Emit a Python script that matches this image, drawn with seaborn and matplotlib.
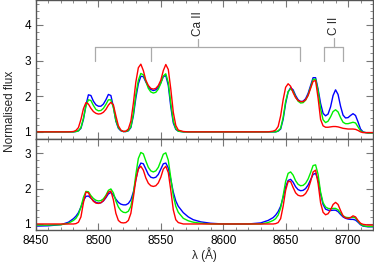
import numpy as np
import pandas as pd
import seaborn as sns
import matplotlib
matplotlib.use("Agg")
import matplotlib.pyplot as plt
from matplotlib.ticker import MultipleLocator

# wavelength grid (Angstrom)
wave = [8450, 8460, 8470, 8476, 8480,
        8482, 8484, 8486, 8488, 8490, 8492, 8494, 8496, 8498, 8500,
        8502, 8504, 8506, 8508, 8510, 8512, 8514, 8516, 8518, 8520,
        8522, 8524, 8526, 8528, 8530, 8532, 8534, 8536, 8538, 8540,
        8542, 8544, 8546, 8548, 8550, 8552, 8554, 8556, 8558, 8560,
        8562, 8564,
        8568, 8572, 8576, 8582, 8590, 8600, 8610, 8620, 8630, 8636, 8640,
        8642, 8644, 8646, 8648, 8650, 8652, 8654, 8656, 8658, 8660,
        8662, 8664, 8666, 8668, 8670, 8672, 8674, 8676, 8678, 8680,
        8682, 8684, 8686, 8688, 8690, 8692, 8694, 8696, 8698, 8700,
        8702, 8704, 8706, 8708, 8710, 8712, 8714, 8716,
        8720]

# upper panel
top_blue = [1.0, 1.0, 1.0, 1.0, 1.0,
            1.01, 1.03, 1.1, 1.35, 1.75, 2.04, 2.02, 1.86, 1.76, 1.72,
            1.72, 1.78, 1.9, 2.05, 2.02, 1.7, 1.3, 1.1, 1.03, 1.01,
            1.01, 1.03, 1.12, 1.45, 1.95, 2.35, 2.56, 2.55, 2.4, 2.27,
            2.19, 2.16, 2.18, 2.25, 2.38, 2.55, 2.58, 2.3, 1.7, 1.25,
            1.07, 1.02,
            1.0, 1.0, 1.0, 1.0, 1.0, 1.0, 1.0, 1.0, 1.0, 1.0, 1.0,
            1.0, 1.02, 1.08, 1.35, 1.8, 2.12, 2.24, 2.18, 2.02, 1.9,
            1.85, 1.86, 1.93, 2.08, 2.3, 2.52, 2.52, 2.2, 1.8, 1.52,
            1.45, 1.5, 1.7, 2.02, 2.18, 2.05, 1.72, 1.47, 1.39, 1.4,
            1.46, 1.51, 1.46, 1.28, 1.08, 1.0, 0.98, 0.97,
            0.97]
top_green = [1.0, 1.0, 1.0, 1.0, 1.0,
             1.01, 1.03, 1.12, 1.38, 1.72, 1.9, 1.88, 1.74, 1.63, 1.59,
             1.6, 1.66, 1.77, 1.9, 1.9, 1.68, 1.32, 1.12, 1.04, 1.01,
             1.01, 1.04, 1.14, 1.5, 2.05, 2.45, 2.64, 2.6, 2.42, 2.22,
             2.12, 2.09, 2.11, 2.2, 2.36, 2.57, 2.63, 2.38, 1.8, 1.3,
             1.09, 1.02,
             1.0, 1.0, 1.0, 1.0, 1.0, 1.0, 1.0, 1.0, 1.0, 1.0, 1.0,
             1.0, 1.03, 1.1, 1.4, 1.85, 2.13, 2.21, 2.14, 1.98, 1.86,
             1.81, 1.82, 1.89, 2.03, 2.25, 2.47, 2.48, 2.15, 1.65, 1.34,
             1.26, 1.3, 1.42, 1.57, 1.62, 1.56, 1.4, 1.27, 1.23, 1.23,
             1.25, 1.27, 1.25, 1.14, 1.03, 0.99, 0.98, 0.97,
             0.97]
top_red = [1.0, 1.0, 1.0, 1.0, 1.01,
           1.04, 1.12, 1.35, 1.65, 1.82, 1.78, 1.66, 1.57, 1.52, 1.5,
           1.51, 1.55, 1.63, 1.75, 1.83, 1.76, 1.45, 1.17, 1.05, 1.01,
           1.02, 1.08, 1.3, 1.8, 2.4, 2.8, 2.9, 2.72, 2.45, 2.3,
           2.22, 2.2, 2.22, 2.3, 2.45, 2.72, 2.89, 2.75, 2.2, 1.55,
           1.18, 1.05,
           1.01, 1.0, 1.0, 1.0, 1.0, 1.0, 1.0, 1.0, 1.0, 1.0, 1.02,
           1.05, 1.15, 1.45, 1.9, 2.25, 2.35, 2.28, 2.1, 1.96, 1.88,
           1.85, 1.85, 1.9, 2.02, 2.22, 2.42, 2.44, 1.95, 1.35, 1.17,
           1.13, 1.13, 1.14, 1.15, 1.15, 1.14, 1.12, 1.1, 1.09, 1.08,
           1.08, 1.08, 1.07, 1.04, 1.0, 0.98, 0.98, 0.98,
           0.98]

# lower panel
bot_blue = [0.94, 0.95, 0.98, 1.05, 1.15,
            1.22, 1.32, 1.48, 1.66, 1.78, 1.79, 1.73, 1.66, 1.61, 1.59,
            1.6, 1.65, 1.74, 1.85, 1.89, 1.82, 1.7, 1.61, 1.56, 1.54,
            1.54, 1.58, 1.68, 1.9, 2.25, 2.58, 2.72, 2.7, 2.55, 2.4,
            2.32, 2.3, 2.32, 2.4, 2.55, 2.7, 2.72, 2.58, 2.25, 1.9,
            1.65, 1.5,
            1.32, 1.2, 1.12, 1.06, 1.02, 1.0, 1.0, 1.0, 1.03, 1.1, 1.18,
            1.25, 1.35, 1.5, 1.75, 2.05, 2.23, 2.26, 2.18, 2.05, 1.97,
            1.94, 1.95, 2.0, 2.1, 2.25, 2.4, 2.43, 2.25, 1.85, 1.55,
            1.42, 1.39, 1.38, 1.39, 1.39, 1.35, 1.27, 1.2, 1.16, 1.14,
            1.13, 1.13, 1.11, 1.05, 0.98, 0.94, 0.93, 0.92,
            0.92]
bot_green = [0.97, 0.97, 0.98, 1.02, 1.1,
             1.16, 1.27, 1.48, 1.75, 1.92, 1.91, 1.8, 1.72, 1.67, 1.65,
             1.66, 1.71, 1.81, 1.95, 1.99, 1.88, 1.65, 1.48, 1.38, 1.33,
             1.32, 1.36, 1.5, 1.85, 2.4, 2.85, 3.02, 2.98, 2.78, 2.6,
             2.5, 2.47, 2.5, 2.6, 2.78, 2.97, 3.01, 2.8, 2.3, 1.8,
             1.5, 1.33,
             1.16, 1.09, 1.05, 1.02, 1.0, 1.0, 1.0, 1.0, 1.0, 1.04, 1.1,
             1.15, 1.25, 1.45, 1.8, 2.2, 2.43, 2.47, 2.38, 2.22, 2.12,
             2.08, 2.09, 2.15, 2.27, 2.45, 2.65, 2.67, 2.4, 1.9, 1.6,
             1.48, 1.44, 1.43, 1.44, 1.44, 1.4, 1.31, 1.23, 1.19, 1.18,
             1.18, 1.19, 1.17, 1.08, 1.0, 0.95, 0.94, 0.93,
             0.93]
bot_red = [1.0, 1.0, 1.0, 1.0, 1.0,
           1.01, 1.05, 1.2, 1.6, 1.9, 1.88, 1.74, 1.64, 1.59, 1.58,
           1.6, 1.66, 1.77, 1.9, 1.93, 1.68, 1.3, 1.1, 1.04, 1.03,
           1.04, 1.1, 1.3, 1.75, 2.25, 2.55, 2.63, 2.52, 2.3, 2.15,
           2.08, 2.06, 2.08, 2.16, 2.32, 2.55, 2.63, 2.45, 1.95, 1.4,
           1.12, 1.04,
           1.0, 1.0, 1.0, 1.0, 1.0, 1.0, 1.0, 1.0, 1.0, 1.0, 1.0,
           1.01, 1.04, 1.15, 1.5, 1.95, 2.2, 2.2, 2.03, 1.88, 1.81,
           1.79, 1.8, 1.86, 1.98, 2.2, 2.47, 2.52, 2.15, 1.6, 1.33,
           1.26, 1.29, 1.4, 1.55, 1.61, 1.55, 1.38, 1.23, 1.17, 1.16,
           1.18, 1.23, 1.2, 1.1, 1.02, 0.99, 0.98, 0.97,
           0.97]

series_names = ["blue", "green", "red"]
colours = {"blue": "#0000ff", "green": "#00f000", "red": "#ff0000"}


def make_df(b, g, r):
    frames = []
    for name, vals in zip(series_names, [b, g, r]):
        frames.append(pd.DataFrame({"wave": wave, "flux": vals, "model": name}))
    return pd.concat(frames, ignore_index=True)


df_top = make_df(top_blue, top_green, top_red)
df_bot = make_df(bot_blue, bot_green, bot_red)

sns.set_style("ticks")
plt.rcParams["font.family"] = ["Liberation Sans", "DejaVu Sans"]
plt.rcParams["font.size"] = 8.5

fig = plt.figure(figsize=(3.74, 2.64), dpi=100)
ax1 = fig.add_axes([36 / 374, 1 - 139 / 264, 337 / 374, 139 / 264])
ax2 = fig.add_axes([36 / 374, 1 - 230 / 264, 337 / 374, 91 / 264])

for ax, d in [(ax1, df_top), (ax2, df_bot)]:
    sns.lineplot(data=d, x="wave", y="flux", hue="model", hue_order=series_names,
                 palette=colours, sort=False, estimator=None, linewidth=1.0,
                 legend=False, ax=ax)
    ax.set_xlim(8450, 8720)
    ax.xaxis.set_major_locator(MultipleLocator(50))
    ax.xaxis.set_minor_locator(MultipleLocator(10))
    ax.yaxis.set_major_locator(MultipleLocator(1))
    ax.yaxis.set_minor_locator(MultipleLocator(0.2))
    ax.tick_params(which="both", direction="in", top=True, right=True,
                   colors="#777777", labelcolor="black", labelsize=8.5)
    ax.tick_params(which="major", length=5, width=0.8)
    ax.tick_params(which="minor", length=2.5, width=0.6)
    for sp in ax.spines.values():
        sp.set_color("#555555")
        sp.set_linewidth(1.0)
    ax.set_ylabel("")

ax1.set_ylim(0.8, 4.7)
ax2.set_ylim(0.83, 3.4)
ax1.set_xlabel("")
ax1.tick_params(labelbottom=False)
ax2.set_xlabel("λ (Å)", fontsize=8.5, labelpad=0.5)
fig.text(10 / 374, 1 - 111 / 264, "Normalised flux", rotation=90,
         ha="center", va="center", fontsize=8.5)

# line identifications
grey = "#aaaaaa"
ca_lines = [8497.4, 8542.3, 8661.5]
ca_mid = 8579.5
ax1.plot([ca_lines[0], ca_lines[-1]], [3.37, 3.37], color=grey, lw=0.9)
for w in ca_lines:
    ax1.plot([w, w], [3.0, 3.37], color=grey, lw=0.9)
ax1.plot([ca_mid, ca_mid], [3.37, 3.6], color=grey, lw=0.9)
ax1.text(ca_mid, 3.7, "Ca II", rotation=90, ha="center", va="bottom", fontsize=8.5)

c_lines = [8681, 8696]
c_mid = 8688.5
ax1.plot([c_lines[0], c_lines[-1]], [3.37, 3.37], color=grey, lw=0.9)
for w in c_lines:
    ax1.plot([w, w], [3.0, 3.37], color=grey, lw=0.9)
ax1.plot([c_mid, c_mid], [3.37, 3.63], color=grey, lw=0.9)
ax1.text(c_mid, 3.72, "C II", rotation=90, ha="center", va="bottom", fontsize=8.5)

fig.savefig("out.png", dpi=100)
